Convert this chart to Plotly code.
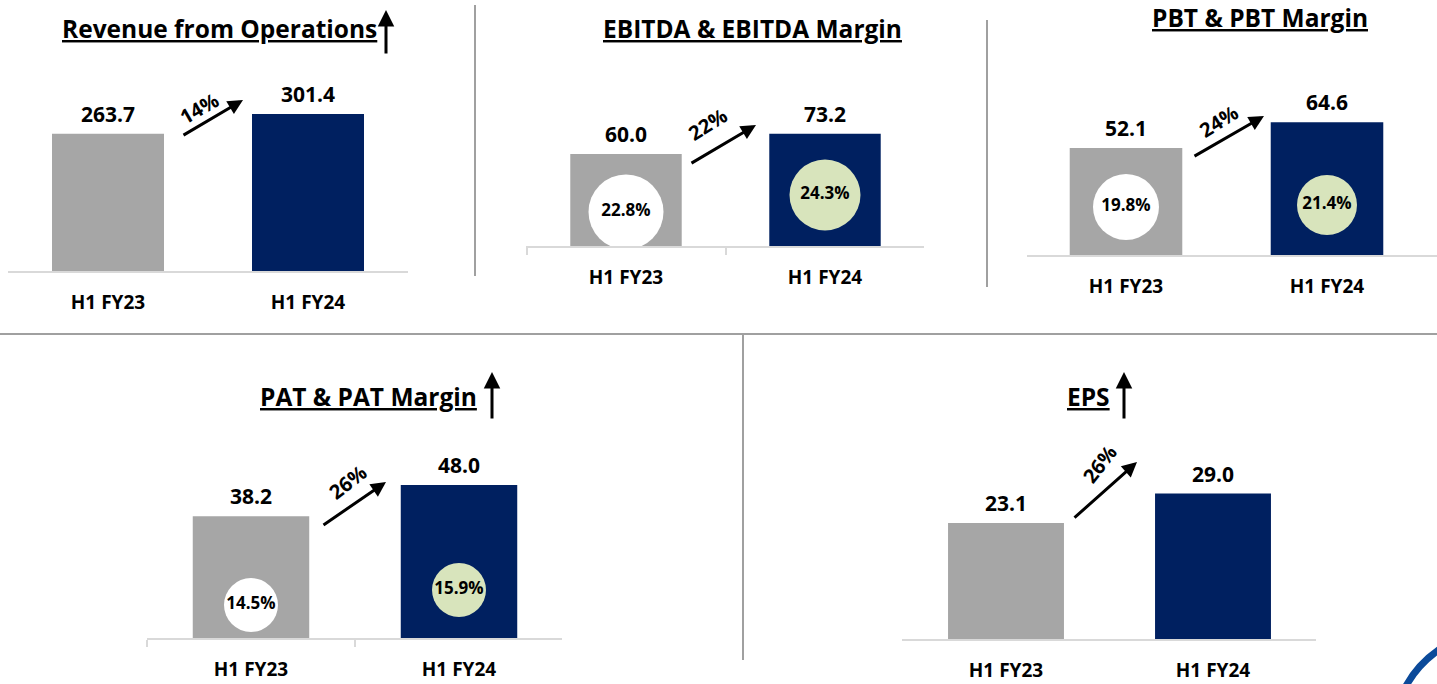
import plotly.graph_objects as go

# ---------------- data ----------------
categories = ["H1 FY23", "H1 FY24"]
titles = ["Revenue from Operations", "EBITDA & EBITDA Margin", "PBT & PBT Margin",
          "PAT & PAT Margin", "EPS"]
revenue = [263.7, 301.4]
ebitda = [60.0, 73.2]
pbt = [52.1, 64.6]
pat = [38.2, 48.0]
eps = [23.1, 29.0]
ebitda_margin = [22.8, 24.3]
pbt_margin = [19.8, 21.4]
pat_margin = [14.5, 15.9]
growth_labels = ["14%", "22%", "24%", "26%", "26%"]

series = [revenue, ebitda, pbt, pat, eps]
margins = [None, ebitda_margin, pbt_margin, pat_margin, None]

# ---------------- style / layout ----------------
W, H = 1437, 684
FONT = "'Open Sans', Lato, sans-serif"
GRAY, NAVY, GREEN = "#A6A6A6", "#002060", "#D8E4BC"
BAR_COLORS = [GRAY, NAVY]
CIRCLE_COLORS = ["white", GREEN]


def px(x):
    return x / W


def py(y):
    return 1 - y / H


panels = [
    dict(left=8, right=408, c0=108, c1=308, base=271, top=60, scale=0.5208, ticks=False,
         title_xy=(220, 29), up_arrow=(386, 10, 55),
         arrow=((182, 136), (243, 100)), glabel=(199, 109), gangle=-30),
    dict(left=526, right=924, c0=626, c1=825, base=246, top=60, scale=1.534, ticks=True,
         title_xy=(752, 29), up_arrow=None,
         arrow=((690, 164), (756, 125)), glabel=(707, 124), gangle=-32,
         circ_frac=[0.37, 0.454], circ_size=[75, 71]),
    dict(left=1027, right=1437, c0=1126, c1=1327, base=255, top=60, scale=2.055, ticks=False,
         title_xy=(1260, 18), up_arrow=None,
         arrow=((1193, 157), (1264, 116)), glabel=(1218, 121), gangle=-32,
         circ_frac=[0.448, 0.377], circ_size=[66, 60]),
    dict(left=147, right=562, c0=251, c1=459, base=638, top=440, scale=3.185, ticks=True,
         title_xy=(368, 397), up_arrow=(492, 372, 420),
         arrow=((322, 526), (386, 482)), glabel=(347, 482), gangle=-38,
         circ_frac=[0.271, 0.314], circ_size=[54, 54]),
    dict(left=902, right=1316, c0=1006, c1=1213, base=639, top=440, scale=5.017, ticks=False,
         title_xy=(1088, 397), up_arrow=(1124, 372, 420),
         arrow=((1073, 519), (1137, 462)), glabel=(1099, 464), gangle=-52),
]

fig = go.Figure()
annotations = []
shapes = []

for i, (p, vals) in enumerate(zip(panels, series)):
    n = "" if i == 0 else str(i + 1)
    xa, ya = "x" + n, "y" + n
    unit = p["c1"] - p["c0"]
    xr = [(p["left"] - p["c0"]) / unit, (p["right"] - p["c0"]) / unit]
    yr = [0, (p["base"] - p["top"]) / p["scale"]]

    fig.add_trace(go.Bar(
        x=categories, y=vals, marker=dict(color=BAR_COLORS, line=dict(width=0)),
        width=0.56, xaxis=xa, yaxis=ya, showlegend=False, hoverinfo="skip"))

    m = margins[i]
    if m is not None:
        fig.add_trace(go.Scatter(
            x=categories, y=[v * f for v, f in zip(vals, p["circ_frac"])],
            mode="markers+text", text=[f"{v:.1f}%" for v in m],
            textposition="middle center",
            textfont=dict(family=FONT, size=17, color="black", weight="bold"),
            marker=dict(size=p["circ_size"], color=CIRCLE_COLORS, opacity=1, line=dict(width=0)),
            xaxis=xa, yaxis=ya, showlegend=False, hoverinfo="skip", cliponaxis=True))

    ax_kw = dict(
        domain=[max(0, px(p["left"])), min(1, px(p["right"]))], range=xr, type="category",
        showgrid=False, zeroline=False, showline=True, linecolor="#D9D9D9", linewidth=2,
        tickfont=dict(family=FONT, size=19, color="black", weight="bold"),
        ticklabelstandoff=13, fixedrange=True,
    )
    if p["ticks"]:
        ax_kw.update(ticks="outside", tickson="boundaries", ticklen=7, tickcolor="#D9D9D9", tickwidth=2)
    else:
        ax_kw.update(ticks="")
    ya_kw = dict(domain=[py(p["base"]), py(p["top"])], range=yr, visible=False, fixedrange=True)
    if n:
        ax_kw["anchor"] = ya
        ya_kw["anchor"] = xa
    fig.update_layout(**{"xaxis" + n: ax_kw, "yaxis" + n: ya_kw})

    # value labels
    for c, v in zip(categories, vals):
        annotations.append(dict(
            x=c, y=v, xref=xa, yref=ya, text=f"{v:.1f}", showarrow=False,
            xanchor="center", yanchor="middle", yshift=20,
            font=dict(family=FONT, size=21, color="black", weight="bold")))

    # title
    tx, ty = p["title_xy"]
    annotations.append(dict(
        x=px(tx), y=py(ty), xref="paper", yref="paper", text=titles[i], showarrow=False,
        xanchor="center", yanchor="middle",
        font=dict(family=FONT, size=24.5, color="black", weight="bold", lineposition="under")))

    # up arrow next to title
    if p["up_arrow"]:
        ux, uy0, uy1 = p["up_arrow"]
        annotations.append(dict(
            x=px(ux), y=py(uy0), xref="paper", yref="paper", ax=0, ay=uy1 - uy0,
            showarrow=True, arrowhead=2, arrowsize=1.1, arrowwidth=3, arrowcolor="black", text=""))

    # growth arrow
    (t0x, t0y), (h0x, h0y) = p["arrow"]
    annotations.append(dict(
        x=px(h0x), y=py(h0y), xref="paper", yref="paper", ax=t0x - h0x, ay=t0y - h0y,
        showarrow=True, arrowhead=2, arrowsize=1, arrowwidth=3, arrowcolor="black", text=""))
    gx, gy = p["glabel"]
    annotations.append(dict(
        x=px(gx), y=py(gy), xref="paper", yref="paper", text=growth_labels[i], showarrow=False,
        xanchor="center", yanchor="middle",
        textangle=p["gangle"], font=dict(family=FONT, size=20, color="black", weight="bold")))

# separators
sep_color = "#A0A0A0"
for (x0, y0, x1, y1) in [(475, 5, 475, 276), (987, 20, 987, 287), (0, 334, 1437, 334), (743, 334, 743, 660)]:
    shapes.append(dict(type="line", xref="paper", yref="paper",
                       x0=px(x0), y0=py(y0), x1=px(x1), y1=py(y1),
                       line=dict(color=sep_color, width=2)))

# logo fragment bottom-right
shapes.append(dict(type="path", xref="paper", yref="paper",
                   path=f"M {px(1406)},{py(686)} Q {px(1418)},{py(664)} {px(1440)},{py(649)}",
                   line=dict(color="#0B4A9A", width=7)))

fig.update_layout(
    width=W, height=H, margin=dict(l=0, r=0, t=0, b=0),
    paper_bgcolor="white", plot_bgcolor="rgba(0,0,0,0)",
    annotations=annotations, shapes=shapes, showlegend=False,
    barmode="group",
)

fig.write_html(
    "out.html",
    config={"displayModeBar": False},
    post_script="document.body.style.margin='0';document.body.style.overflow='hidden';",
)
